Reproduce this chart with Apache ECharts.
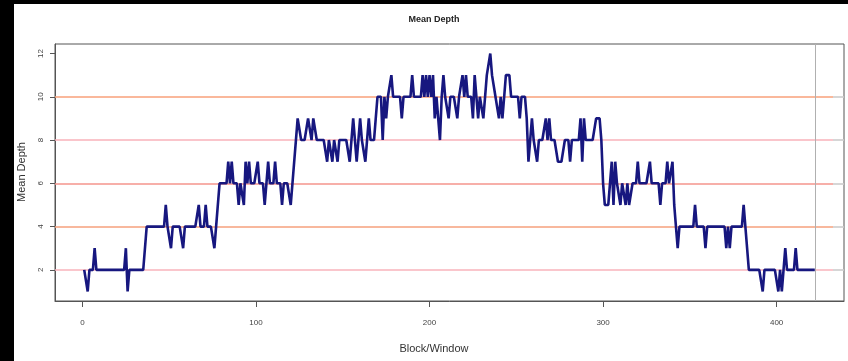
<!DOCTYPE html>
<html>
<head>
<meta charset="utf-8">
<script src="https://cdn.jsdelivr.net/npm/echarts@6/dist/echarts.min.js"></script>
<style>
html,body{margin:0;padding:0;background:#000;width:848px;height:361px;overflow:hidden;}
#c{position:absolute;left:14px;top:4px;width:834px;height:357px;background:#fff;}
</style>
</head>
<body>
<div id="c"></div>
<script>
// Mean depth per block/window (block = index + 1)
const meanDepth = [
  2,2,1,2,2,2,3,2,2,2,
  2,2,2,2,2,2,2,2,2,2,
  2,2,2,2,3,1,2,2,2,2,
  2,2,2,2,2,2,4,4,4,4,
  4,4,4,4,4,4,4,5,4,4,
  3,4,4,4,4,4,4,3,4,4,
  4,4,4,4,4,4,5,4,4,4,
  5,4,4,4,4,3,4,4,6,6,
  6,6,6,7,6,7,6,6,6,5,
  6,6,5,7,6,7,6,6,6,6,
  7,6,6,6,5,6,7,6,6,6,
  7,6,6,6,5,6,6,6,6,5,
  6,6,8,9,9,8,8,8,8,9,
  9,8,9,9,8,8,8,8,8,8,
  7,8,8,7,8,8,7,8,8,8,
  8,8,8,7,8,9,8,7,8,9,
  8,8,7,8,9,8,8,8,9,10,
  10,10,8,10,9,10,10,11,10,10,
  10,10,10,9,10,10,10,10,10,11,
  10,10,10,10,10,11,10,11,10,11,
  10,11,9,10,10,8,10,11,10,10,
  9,10,10,10,10,9,10,10,11,10,
  11,10,10,10,9,11,10,9,10,10,
  9,10,11,11,12,11,11,10,10,9,
  10,9,10,11,11,11,10,10,10,10,
  10,9,10,10,10,9,7,8,9,8,
  8,7,8,8,8,8,9,8,9,8,
  8,8,8,7,7,7,7,8,8,8,
  7,8,8,8,8,8,9,7,9,8,
  8,8,8,8,8,9,9,9,8,6,
  5,5,5,5,7,5,7,6,6,5,
  6,6,5,6,5,5,6,6,6,7,
  6,6,6,6,6,6,7,6,6,6,
  6,6,5,6,6,6,7,6,6,7,
  5,4,3,4,4,4,4,4,4,4,
  4,4,5,4,4,4,4,4,3,4,
  4,4,4,4,4,4,4,4,4,4,
  3,4,3,4,4,4,4,4,4,4,
  5,4,3,2,2,2,2,2,2,2,
  2,1,2,2,2,2,2,2,2,2,
  1,2,1,2,3,2,2,2,2,2,
  3,2,2,2,2,2,2,2,2,2,
  2,2
];
const xTicks = [0, 100, 200, 300, 400];
const yTicks = [2, 4, 6, 8, 10, 12];
const refLevels = [2, 4, 6, 8, 10];
const lastBlock = 422;

const xMin = -15.84, xMax = 438.84, yMin = 0.56, yMax = 12.44;
const refColors = ['#f9b3bb', '#f6a07c', '#f4958c', '#f9b2ba', '#f8a07a'];
const refEnd = 432.5;

const markData = [];
refLevels.forEach((lv, i) => {
  markData.push([{coord: [xMin, lv], lineStyle: {color: refColors[i], width: 1.6, type: 'solid'}},
                 {coord: [refEnd, lv]}]);
  markData.push([{coord: [refEnd, lv], lineStyle: {color: '#cccccc', width: 1.6, type: 'solid'}},
                 {coord: [xMax, lv]}]);
});
markData.push([{coord: [lastBlock, yMin], lineStyle: {color: '#b0b0b0', width: 1, type: 'solid'}},
               {coord: [lastBlock, yMax]}]);

const chart = echarts.init(document.getElementById('c'), null, {renderer: 'canvas'});
const FONT = 'Liberation Sans, Arial, sans-serif';
chart.setOption({
  animation: false,
  backgroundColor: '#fff',
  title: [
    {text: 'Mean Depth', left: 415, top: 6, textAlign: 'center',
     textStyle: {fontFamily: FONT, fontSize: 9, fontWeight: 'bold', color: '#222'}},
    {text: 'Block/Window', left: 415, top: 334, textAlign: 'center',
     textStyle: {fontFamily: FONT, fontSize: 11, fontWeight: 'normal', color: '#333'}}
  ],
  graphic: [{
    type: 'text', x: 8, y: 168, rotation: Math.PI / 2,
    style: {text: 'Mean Depth', fontFamily: FONT, fontSize: 11, fill: '#333',
            textAlign: 'center', textVerticalAlign: 'middle'}
  }],
  grid: {left: 41, top: 40, width: 789, height: 257, show: true,
         borderColor: '#555', borderWidth: 1, backgroundColor: 'transparent'},
  xAxis: {
    type: 'value', min: xMin, max: xMax,
    axisLine: {show: true, onZero: false, lineStyle: {color: '#555', width: 1}},
    axisTick: {show: true, customValues: xTicks, length: 6, lineStyle: {color: '#555'}},
    axisLabel: {customValues: xTicks, fontFamily: FONT, fontSize: 8, color: '#444', margin: 18},
    splitLine: {show: false}
  },
  yAxis: {
    type: 'value', min: yMin, max: yMax,
    axisLine: {show: true, onZero: false, lineStyle: {color: '#555', width: 1}},
    axisTick: {show: true, customValues: yTicks, length: 5, lineStyle: {color: '#555'}},
    axisLabel: {customValues: yTicks, rotate: 90, fontFamily: FONT, fontSize: 8, color: '#444', margin: 10},
    splitLine: {show: false}
  },
  series: [
    {
      type: 'line', data: [], z: 1, silent: true,
      markLine: {silent: true, symbol: ['none', 'none'], label: {show: false},
                 animation: false, lineStyle: {type: 'solid'}, data: markData}
    },
    {
      type: 'line', zlevel: 1, z: 3,
      data: meanDepth.map((v, i) => [i + 1, v]),
      showSymbol: false, symbol: 'none',
      lineStyle: {color: '#17177f', width: 2.6}
    }
  ]
});
</script>
</body>
</html>
